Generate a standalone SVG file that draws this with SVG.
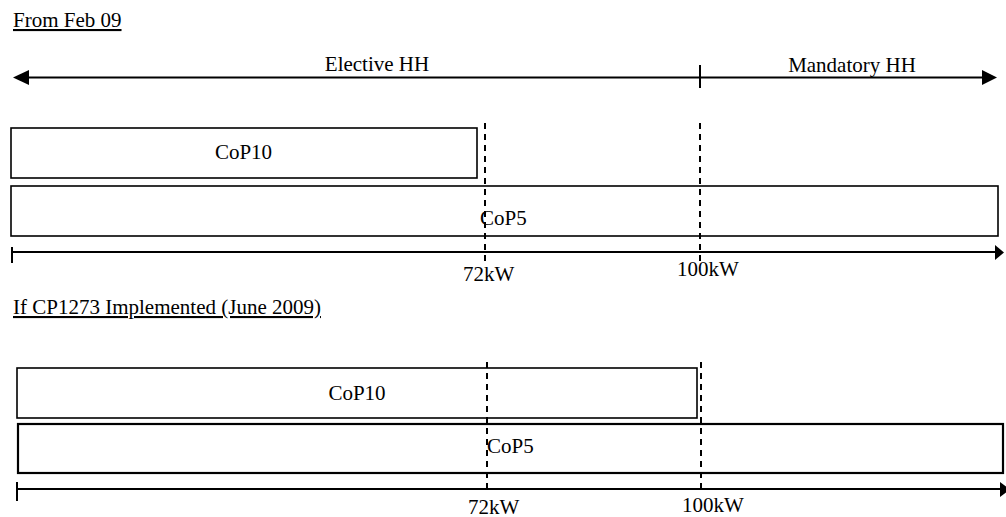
<svg xmlns="http://www.w3.org/2000/svg" width="1006" height="517" viewBox="0 0 1006 517">
<style>
text{font-family:"Liberation Serif","Times New Roman",serif;font-size:21px;fill:#000}
.u{text-decoration:underline}
.box{fill:#fff;stroke:#000;stroke-width:1.6}
.box2{fill:#fff;stroke:#000;stroke-width:2.2}
.ln{stroke:#000;stroke-width:2;fill:none}
.dash{stroke:#000;stroke-width:2;stroke-dasharray:6 5;fill:none}
.head{fill:#000}
</style>
<rect width="1006" height="517" fill="#fff"/>
<g id="title1"><text class="u" x="13" y="27">From Feb 09</text></g>
<g id="title2"><text class="u" x="13" y="314">If CP1273 Implemented (June 2009)</text></g>

<g id="top-cop10"><rect class="box" x="11" y="128" width="466" height="50"/><text x="243.5" y="159" text-anchor="middle">CoP10</text></g>
<g id="top-cop5"><rect class="box" x="11" y="186" width="987" height="50"/></g>

<g id="bot-cop10"><rect class="box" x="17" y="368" width="680" height="50"/><text x="357" y="400" text-anchor="middle">CoP10</text></g>
<g id="bot-cop5"><rect class="box2" x="18" y="424" width="985" height="49"/></g>

<g id="connectors">
  <!-- top HH arrow -->
  <line class="ln" x1="27" y1="77.5" x2="984" y2="77.5"/>
  <polygon class="head" points="13,77.5 29,70 29,85"/>
  <polygon class="head" points="997,77.5 982,70 982,85"/>
  <line class="ln" x1="700" y1="65" x2="700" y2="88"/>
  <!-- top axis -->
  <line class="ln" x1="11" y1="252" x2="996" y2="252"/>
  <line class="ln" x1="12" y1="247" x2="12" y2="263"/>
  <polygon class="head" points="1004,252.5 995,245 995,260"/>
  <line class="dash" x1="485" y1="123" x2="485" y2="263"/>
  <line class="dash" x1="700" y1="123" x2="700" y2="263"/>
  <!-- bottom axis -->
  <line class="ln" x1="17" y1="489" x2="1000" y2="489"/>
  <line class="ln" x1="17" y1="482" x2="17" y2="501"/>
  <polygon class="head" points="1010,489.5 1000,482 1000,497"/>
  <line class="dash" x1="487" y1="362" x2="487" y2="490"/>
  <line class="dash" x1="701" y1="362" x2="701" y2="492"/>
</g>

<g id="labels">
  <text x="377" y="71" text-anchor="middle">Elective HH</text>
  <text x="852" y="72" text-anchor="middle">Mandatory HH</text>
  <text x="480" y="225">CoP5</text>
  <text x="463" y="281">72kW</text>
  <text x="677" y="276">100kW</text>
  <text x="487" y="453">CoP5</text>
  <text x="468" y="514">72kW</text>
  <text x="682" y="512">100kW</text>
</g>
</svg>
